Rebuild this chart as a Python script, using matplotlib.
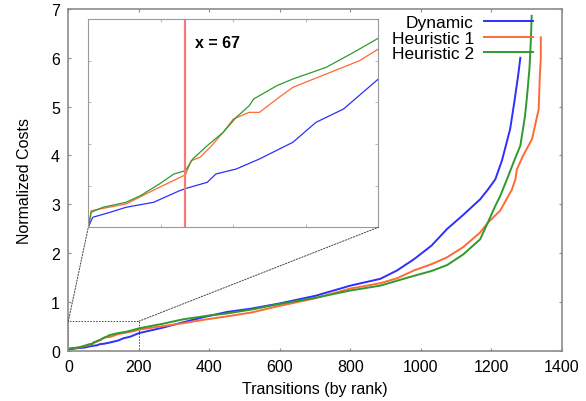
import matplotlib
matplotlib.use("Agg")
import matplotlib.pyplot as plt
from matplotlib.patches import Rectangle, ConnectionPatch

plt.rcParams["font.family"] = ["Liberation Sans", "DejaVu Sans"]

# values
dyn_x = [0, 1, 3, 15, 26, 45, 63, 68, 82, 88, 102, 118, 141, 157, 176, 200,
         269, 326, 393, 450, 520, 596, 700, 800, 885, 932, 980, 1030, 1074,
         1120, 1168, 1190, 1211, 1230, 1253, 1265, 1275, 1282]
dyn_y = [0, 0.008, 0.024, 0.036, 0.048, 0.06, 0.088, 0.094, 0.108, 0.128, 0.14,
         0.164, 0.204, 0.252, 0.284, 0.356,
         0.47, 0.58, 0.70, 0.79, 0.86, 0.96, 1.12, 1.33, 1.47, 1.64, 1.87, 2.15,
         2.49, 2.78, 3.10, 3.30, 3.51, 3.90, 4.54, 5.10, 5.60, 6.00]

h1_x = [0, 2, 26, 49, 67, 71, 77, 84, 93, 100, 111, 118, 130, 141, 164, 187, 200,
        269, 326, 393, 450, 520, 596, 700, 800, 885, 932, 980, 1030, 1074, 1120,
        1168, 1190, 1225, 1258, 1268, 1272, 1290, 1315, 1334, 1337, 1340, 1340]
h1_y = [0, 0.04, 0.056, 0.096, 0.126, 0.16, 0.168, 0.192, 0.228, 0.26, 0.276,
        0.276, 0.308, 0.336, 0.368, 0.40, 0.428,
        0.50, 0.56, 0.64, 0.70, 0.78, 0.91, 1.07, 1.27, 1.38, 1.48, 1.64, 1.77,
        1.91, 2.12, 2.42, 2.62, 2.87, 3.30, 3.51, 3.71, 4.00, 4.33, 4.95, 5.60,
        6.00, 6.42]

h2_x = [0, 2, 10, 26, 36, 49, 59, 67, 72, 82, 93, 102, 111, 114, 130, 141, 164,
        183, 200, 269, 326, 393, 450, 520, 596, 700, 800, 885, 932, 980, 1030,
        1074, 1120, 1168, 1182, 1210, 1225, 1244, 1265, 1282, 1295, 1301, 1308,
        1312, 1314]
h2_y = [0, 0.036, 0.048, 0.06, 0.076, 0.104, 0.128, 0.136, 0.164, 0.196, 0.228,
        0.264, 0.292, 0.308, 0.34, 0.356, 0.384, 0.42, 0.454,
        0.55, 0.64, 0.71, 0.76, 0.84, 0.95, 1.08, 1.23, 1.33, 1.43, 1.53, 1.63,
        1.75, 1.97, 2.28, 2.50, 2.95, 3.17, 3.51, 3.90, 4.20, 4.80, 5.22, 5.80,
        6.40, 6.86]

series_names = ["Dynamic", "Heuristic 1", "Heuristic 2"]
x_ticks = [0, 200, 400, 600, 800, 1000, 1200, 1400]
y_ticks = [0, 1, 2, 3, 4, 5, 6, 7]
marker_x = 67
zoom_box = (0, 200, 0, 0.6)   # x0, x1, y0, y1 of the zoomed region
inset_ylim = (0, 0.5)

colors = ["#2e2eff", "#ff6a33", "#2e9a2e"]
frame = "#8c8c8c"

fig = plt.figure(figsize=(5.86, 4.02), dpi=100)
ax = fig.add_axes([0.1166, 0.1256, 0.8424, 0.8495])

for xs, ys, name, c in zip([dyn_x, h1_x, h2_x], [dyn_y, h1_y, h2_y], series_names, colors):
    ax.plot(xs, ys, color=c, lw=1.4, label=name)

ax.set_xlim(0, 1400)
ax.set_ylim(0, 7)
ax.set_xticks(x_ticks)
ax.set_yticks(y_ticks)
ax.tick_params(direction="in", length=2.5, width=0.8, color=frame,
               top=True, right=True, labelsize=11.5, pad=6)
for s in ax.spines.values():
    s.set_color(frame)
    s.set_linewidth(1.2)
ax.set_xlabel("Transitions (by rank)", fontsize=11.5, labelpad=5)
ax.set_ylabel("Normalized Costs", fontsize=11.5, labelpad=14)

leg = ax.legend(loc="upper right", bbox_to_anchor=(0.962, 1.013), frameon=False,
                markerfirst=False, fontsize=12.5, handlelength=2.8,
                handletextpad=0.6, labelspacing=0.02, borderaxespad=0.2)

# dotted zoom rectangle + connectors
x0, x1, y0, y1 = zoom_box
ax.add_patch(Rectangle((x0, y0), x1 - x0, y1 - y0, fill=False, ls=(0, (1.5, 1.5)),
                       lw=0.7, ec="#444444", zorder=1))

ins = fig.add_axes([0.1507, 0.4321, 0.4949, 0.518])
for xs, ys, c in zip([dyn_x, h1_x, h2_x], [dyn_y, h1_y, h2_y], colors):
    ins.plot(xs, ys, color=c, lw=0.9)
ins.axvline(marker_x, color="#f47a7a", lw=1.6)
ins.text(marker_x + 6.6, 0.444, f"x = {marker_x}", fontsize=11.5, fontweight="bold",
         va="center", ha="left")
ins.set_xlim(x0, x1)
ins.set_ylim(*inset_ylim)
ins.set_xticks([50, 100, 150])
ins.set_yticks([0.1, 0.2, 0.3, 0.4])
ins.tick_params(direction="in", length=2, width=0.6, color="#aaaaaa",
                top=True, right=True, labelbottom=False, labelleft=False)
for s in ins.spines.values():
    s.set_color("#999999")
    s.set_linewidth(0.8)

for xa, xb in [((x0, y1), (0, 0)), ((x1, y1), (1, 0))]:
    con = ConnectionPatch(xyA=xa, coordsA=ax.transData, xyB=xb, coordsB=ins.transAxes,
                          ls=(0, (1.5, 1.5)), lw=0.7, color="#444444")
    fig.add_artist(con)

fig.savefig("out.png", dpi=100)
